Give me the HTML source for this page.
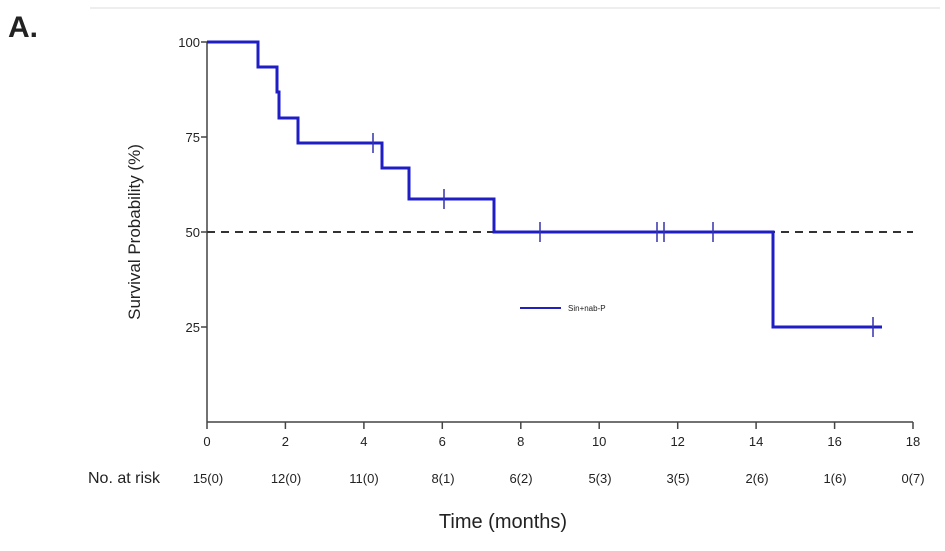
<!DOCTYPE html>
<html><head><meta charset="utf-8"><style>
body{margin:0;background:#fff;}
text{font-family:"Liberation Sans",sans-serif;fill:#222;}
</style></head><body>
<svg width="945" height="546" viewBox="0 0 945 546" xmlns="http://www.w3.org/2000/svg">
<line x1="90" y1="8" x2="940" y2="8" stroke="#ddd" stroke-width="1"/>
<text x="8" y="37" font-size="30" font-weight="bold" fill="#000">A.</text>
<line x1="207" y1="42" x2="207" y2="422" stroke="#444" stroke-width="1.5"/>
<line x1="207" y1="422" x2="913" y2="422" stroke="#444" stroke-width="1.5"/>
<g stroke="#444" stroke-width="1.5">
<line x1="201" y1="42" x2="207" y2="42"/><line x1="201" y1="137" x2="207" y2="137"/>
<line x1="201" y1="232" x2="207" y2="232"/><line x1="201" y1="327" x2="207" y2="327"/>
</g>
<g font-size="13" text-anchor="end">
<text x="200" y="47">100</text><text x="200" y="142">75</text><text x="200" y="237">50</text><text x="200" y="332">25</text>
</g>
<g stroke="#444" stroke-width="1.5">
<line x1="207" y1="422" x2="207" y2="429"/><line x1="285.4" y1="422" x2="285.4" y2="429"/>
<line x1="363.9" y1="422" x2="363.9" y2="429"/><line x1="442.3" y1="422" x2="442.3" y2="429"/>
<line x1="520.8" y1="422" x2="520.8" y2="429"/><line x1="599.2" y1="422" x2="599.2" y2="429"/>
<line x1="677.7" y1="422" x2="677.7" y2="429"/><line x1="756.1" y1="422" x2="756.1" y2="429"/>
<line x1="834.6" y1="422" x2="834.6" y2="429"/><line x1="913" y1="422" x2="913" y2="429"/>
</g>
<g font-size="13" text-anchor="middle">
<text x="207" y="446">0</text><text x="285.4" y="446">2</text><text x="363.9" y="446">4</text>
<text x="442.3" y="446">6</text><text x="520.8" y="446">8</text><text x="599.2" y="446">10</text>
<text x="677.7" y="446">12</text><text x="756.1" y="446">14</text><text x="834.6" y="446">16</text>
<text x="913" y="446">18</text>
</g>
<text x="88" y="483" font-size="16">No. at risk</text>
<g font-size="13" text-anchor="middle">
<text x="208" y="483">15(0)</text><text x="286" y="483">12(0)</text><text x="364" y="483">11(0)</text>
<text x="443" y="483">8(1)</text><text x="521" y="483">6(2)</text><text x="600" y="483">5(3)</text>
<text x="678" y="483">3(5)</text><text x="757" y="483">2(6)</text><text x="835" y="483">1(6)</text>
<text x="913" y="483">0(7)</text>
</g>
<text x="503" y="528" font-size="20" text-anchor="middle">Time (months)</text>
<text transform="translate(140,232) rotate(-90)" font-size="17" text-anchor="middle">Survival Probability (%)</text>
<line x1="207" y1="232" x2="913" y2="232" stroke="#333" stroke-width="2" stroke-dasharray="8,6"/>
<path d="M207,42 H258 V67 H277 V92 H279 V118 H298 V143 H382 V168 H409 V199 H494 V232 H773 V327 H882" fill="none" stroke="#1e1ec4" stroke-width="3"/>
<g stroke="#3333aa" stroke-width="1.5">
<line x1="373" y1="133" x2="373" y2="153"/><line x1="444" y1="189" x2="444" y2="209"/>
<line x1="540" y1="222" x2="540" y2="242"/><line x1="657" y1="222" x2="657" y2="242"/>
<line x1="664" y1="222" x2="664" y2="242"/><line x1="713" y1="222" x2="713" y2="242"/>
<line x1="873" y1="317" x2="873" y2="337"/>
</g>
<line x1="520" y1="308" x2="561" y2="308" stroke="#2222bb" stroke-width="2"/>
<text x="568" y="311" font-size="8">Sin+nab-P</text>
</svg>
</body></html>
